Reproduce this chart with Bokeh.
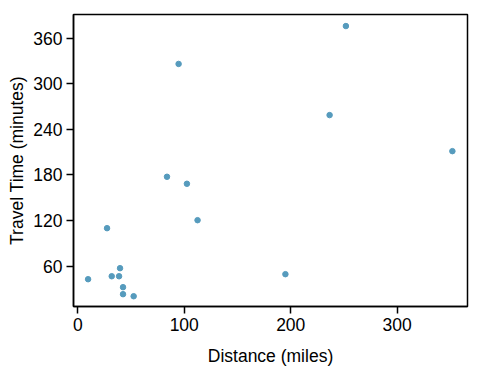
from bokeh.plotting import figure
from bokeh.models import FixedTicker, Range1d
from bokeh.embed import file_html
from bokeh.resources import INLINE

distance = [94.7, 83.8, 102.5, 112.5, 27.5, 9.7, 31.9, 38.8, 39.7, 42.5, 42.5, 52.5, 251.8, 236.5, 351.8, 195.0]
travel_time = [326, 177.6, 168.4, 120.5, 110, 42.9, 46.8, 46.8, 57.4, 32.4, 23.2, 20.5, 375.8, 258.7, 211.3, 49.5]
x_ticks = [0, 100, 200, 300]
y_ticks = [60, 120, 180, 240, 300, 360]

p = figure(width=479, height=376, output_backend="svg", toolbar_location=None,
           x_range=Range1d(-4, 366), y_range=Range1d(7, 391),
           min_border_left=73, min_border_right=12, min_border_top=14, min_border_bottom=70)

p.scatter(distance, travel_time, size=5.5, fill_color="#569BBD", line_color="#569BBD")

p.xgrid.visible = False
p.ygrid.visible = False
p.outline_line_color = "black"
p.outline_line_width = 1.5
p.outline_line_alpha = 1

p.xaxis.ticker = FixedTicker(ticks=x_ticks)
p.yaxis.ticker = FixedTicker(ticks=y_ticks)
p.xaxis.axis_label = "Distance (miles)"
p.yaxis.axis_label = "Travel Time (minutes)"
for ax in (p.xaxis, p.yaxis):
    ax.axis_line_color = "black"
    ax.axis_line_width = 1.5
    ax.major_tick_in = 0
    ax.major_tick_out = 7
    ax.major_tick_line_color = "black"
    ax.major_tick_line_width = 1.5
    ax.minor_tick_line_color = None
    ax.major_label_text_font = "Liberation Sans"
    ax.major_label_text_font_size = "17.5px"
    ax.major_label_text_color = "black"
    ax.major_label_standoff = 4
    ax.axis_label_text_font = "Liberation Sans"
    ax.axis_label_text_font_size = "17.5px"
    ax.axis_label_text_font_style = "normal"
    ax.axis_label_text_color = "black"
p.yaxis.major_label_orientation = "horizontal"
p.xaxis.axis_label_standoff = 12
p.yaxis.axis_label_standoff = 3

open("out.html", "w").write(file_html(p, INLINE))
